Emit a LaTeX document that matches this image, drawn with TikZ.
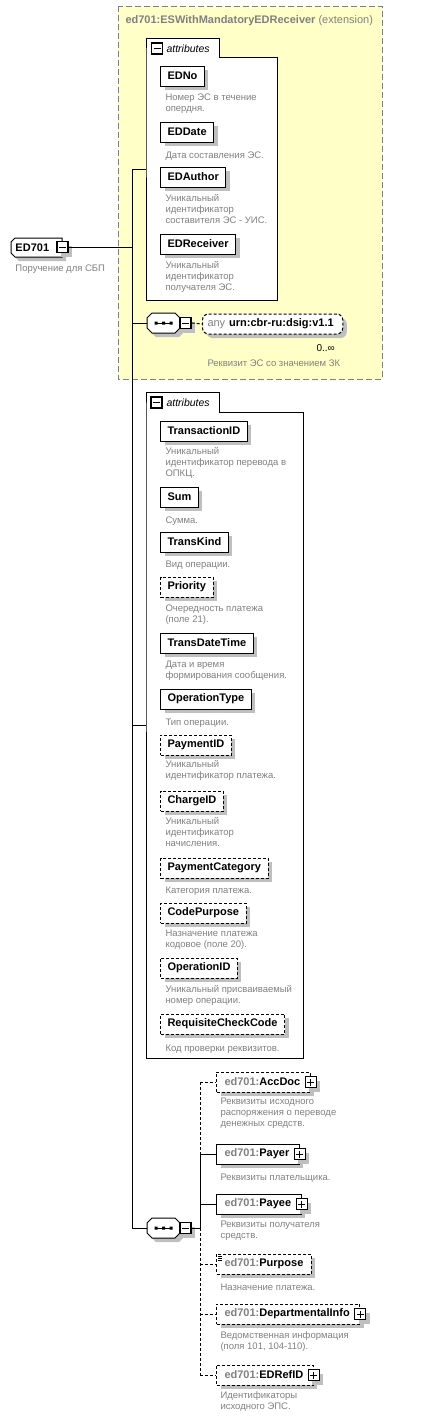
\documentclass[tikz,border=0pt]{standalone}
\usepackage{fontspec}
\setmainfont{Liberation Sans}
\usetikzlibrary{shadows,calc}
\newcommand\elfont{\fontsize{11}{13}\selectfont\bfseries}
\newcommand\dcfont{\fontsize{9.5}{11}\selectfont}
\definecolor{extyellow}{RGB}{255,255,200}
\definecolor{descgray}{RGB}{128,128,128}
\begin{document}
\begin{tikzpicture}[x=1pt,y=-1pt,line width=1pt,
	shadowed/.style={drop shadow={shadow xshift=4pt,shadow yshift=-4pt,fill=black!25,opacity=1}},
	opt/.style={dash pattern=on 3pt off 2pt},
	elbox/.style={draw,fill=white,shadowed,anchor=west,minimum height=20pt,inner xsep=7pt,inner ysep=0pt,font=\elfont},
	optbox/.style={elbox,opt},
	chbox/.style={elbox,inner xsep=8pt},
	optch/.style={chbox,opt},
	desc/.style={anchor=north west,align=left,inner sep=0pt,text=descgray,font=\dcfont,execute at begin node={\rule{0pt}{9pt}}},
	minusbox/.style={draw,line width=1.3pt,fill=white,minimum size=11pt,inner sep=0pt,
		path picture={\draw[line width=1pt] ($(path picture bounding box.west)+(2,0)$) -- ($(path picture bounding box.east)+(-2,0)$);}},
	plusbox/.style={draw,line width=1.3pt,fill=white,minimum size=11pt,inner sep=0pt,shadowed,
		path picture={\draw[line width=1pt] ($(path picture bounding box.west)+(2,0)$) -- ($(path picture bounding box.east)+(-2,0)$)
			($(path picture bounding box.north)+(0,2)$) -- ($(path picture bounding box.south)+(0,-2)$);}}]
	\useasboundingbox (0,0) rectangle (424,1419);
	\draw[draw=black!50,fill=extyellow,dash pattern=on 6pt off 3pt] (118,6) rectangle (382,379);
	\node[anchor=base west,inner sep=0pt,text=descgray,font=\elfont] (ext) at (125,23) {ed701:ESWithMandatoryEDReceiver \mdseries(extension)};
	\draw[fill=white] (146,57) -- (146,38) -- (219,38) -- (219,57) -- (277,57) -- (277,300) -- (146,300) -- cycle;
	\node[minusbox] (att1-m) at (157,48.5) {};
	\node[anchor=base west,inner sep=0pt,font=\fontsize{10.5}{12}\selectfont\itshape] (att1-l) at (166,52) {attributes};
	\node[elbox] (edno) at (160,76) {EDNo};
	\node[desc] (edno-d) at (165,93) {Номер ЭС в течение\\опердня.};
	\node[elbox] (eddate) at (160,132) {EDDate};
	\node[desc] (eddate-d) at (165,149) {Дата составления ЭС.};
	\node[elbox] (edauthor) at (160,177) {EDAuthor};
	\node[desc] (edauthor-d) at (165,194) {Уникальный\\идентификатор\\составителя ЭС - УИС.};
	\node[elbox] (edreceiver) at (160,244) {EDReceiver};
	\node[desc] (edreceiver-d) at (165,261) {Уникальный\\идентификатор\\получателя ЭС.};
	\draw[fill=white,shadowed] (11,242) -- (15,238) -- (62,238) -- (62,257) -- (15,257) -- (11,253) -- cycle;
	\node[anchor=west,inner sep=0pt,font=\elfont] (ed) at (15,247.5) {ED701};
	\node[minusbox,shadowed] (ed-m) at (62.5,247) {};
	\node[desc] (ed-d) at (15,262) {Поручение для СБП};
	\draw[fill=white,shadowed] (147,318) -- (152,313) -- (175,313) -- (180,318) -- (180,328) -- (175,333) -- (152,333) -- (147,328) -- cycle;
	\node[minimum width=33pt,minimum height=20pt,inner sep=0pt] (seq1) at (163.5,323) {};
	\draw (156,323) -- (171,323);
	\fill (154.5,321.5) rectangle +(3,3) (162,321.5) rectangle +(3,3) (169.5,321.5) rectangle +(3,3);
	\node[minusbox,shadowed] (seq1-m) at (185.5,323) {};
	\node[optbox,rounded corners=6pt,inner xsep=5pt] (any) at (202,324) {\textcolor{descgray}{\mdseries any}\hspace{4pt}urn:cbr-ru:dsig:v1.1\kern4pt};
	\node[anchor=base west,inner sep=0pt,font=\fontsize{10}{12}\selectfont] (any-n) at (316,351) {0..∞};
	\node[desc] (any-d) at (207,357) {Реквизит ЭС со значением ЗК};
	\draw[fill=white] (146,412) -- (146,392) -- (219,392) -- (219,412) -- (303,412) -- (303,1058) -- (146,1058) -- cycle;
	\node[minusbox] (att2-m) at (156.5,402.5) {};
	\node[anchor=base west,inner sep=0pt,font=\fontsize{10.5}{12}\selectfont\itshape] (att2-l) at (166,406) {attributes};
	\node[elbox] (transid) at (160,431) {TransactionID};
	\node[desc] (transid-d) at (165,447) {Уникальный\\идентификатор перевода в\\ОПКЦ.};
	\node[elbox] (sum) at (160,497) {Sum};
	\node[desc] (sum-d) at (165,514) {Сумма.};
	\node[elbox] (transkind) at (160,542) {TransKind};
	\node[desc] (transkind-d) at (165,558) {Вид операции.};
	\node[optbox] (priority) at (160,587) {Priority};
	\node[desc] (priority-d) at (165,604) {Очередность платежа\\(поле 21).};
	\node[elbox] (transdt) at (160,643) {TransDateTime};
	\node[desc] (transdt-d) at (165,660) {Дата и время\\формирования сообщения.};
	\node[elbox] (optype) at (160,699) {OperationType};
	\node[desc] (optype-d) at (165,716) {Тип операции.};
	\node[optbox] (payid) at (160,745) {PaymentID};
	\node[desc] (payid-d) at (165,760) {Уникальный\\идентификатор платежа.};
	\node[optbox] (chargeid) at (160,801) {ChargeID};
	\node[desc] (chargeid-d) at (165,817) {Уникальный\\идентификатор\\начисления.};
	\node[optbox] (paycat) at (160,868) {PaymentCategory};
	\node[desc] (paycat-d) at (165,884) {Категория платежа.};
	\node[optbox] (codepurp) at (160,913) {CodePurpose};
	\node[desc] (codepurp-d) at (165,929) {Назначение платежа\\кодовое (поле 20).};
	\node[optbox] (opid) at (160,968) {OperationID};
	\node[desc] (opid-d) at (165,985) {Уникальный присваиваемый\\номер операции.};
	\node[optbox] (reqcheck) at (160,1024) {RequisiteCheckCode};
	\node[desc] (reqcheck-d) at (165,1042) {Код проверки реквизитов.};
	\draw[fill=white,shadowed] (147,1223) -- (152,1218) -- (175,1218) -- (180,1223) -- (180,1233) -- (175,1238) -- (152,1238) -- (147,1233) -- cycle;
	\node[minimum width=33pt,minimum height=20pt,inner sep=0pt] (seq2) at (163.5,1228) {};
	\draw (156,1228) -- (171,1228);
	\fill (154.5,1226.5) rectangle +(3,3) (162,1226.5) rectangle +(3,3) (169.5,1226.5) rectangle +(3,3);
	\node[minusbox,shadowed] (seq2-m) at (185.5,1228) {};
	\node[optch] (accdoc) at (216,1082) {\textcolor{descgray}{ed701:}AccDoc\kern2pt};
	\node[plusbox] (accdoc-p) at (accdoc.east) {};
	\node[desc] (accdoc-d) at (220,1097) {Реквизиты исходного\\распоряжения о переводе\\денежных средств.};
	\node[chbox] (payer) at (216,1154) {\textcolor{descgray}{ed701:}Payer\kern2pt};
	\node[plusbox] (payer-p) at (payer.east) {};
	\node[desc] (payer-d) at (220,1171) {Реквизиты плательщика.};
	\node[chbox] (payee) at (216,1204) {\textcolor{descgray}{ed701:}Payee\kern2pt};
	\node[plusbox] (payee-p) at (payee.east) {};
	\node[desc] (payee-d) at (220,1220) {Реквизиты получателя\\средств.};
	\node[optch] (purpose) at (216,1264) {\textcolor{descgray}{ed701:}Purpose};
	\draw[line width=0.6pt] (218,1256) -- (222,1256) (218,1258) -- (222,1258) (218,1260) -- (222,1260);
	\node[desc] (purpose-d) at (220,1281) {Назначение платежа.};
	\node[optch] (depinfo) at (216,1314) {\textcolor{descgray}{ed701:}DepartmentalInfo\kern2pt};
	\node[plusbox] (depinfo-p) at (depinfo.east) {};
	\node[desc] (depinfo-d) at (220,1331) {Ведомственная информация\\(поля 101, 104-110).};
	\node[optch] (edrefid) at (216,1375) {\textcolor{descgray}{ed701:}EDRefID\kern2pt};
	\node[plusbox] (edrefid-p) at (edrefid.east) {};
	\node[desc] (edrefid-d) at (220,1391) {Идентификаторы\\исходного ЭПС.};
	\coordinate (tr-top) at (132,169);
	\coordinate (tr-bot) at (132,1228);
	\coordinate (att1) at (146,169);
	\coordinate (att2) at (146,725);
	\coordinate (ch-top) at (200,1082);
	\coordinate (ch-bot) at (200,1375);
	\draw (ed-m.east) -- (ed-m.east -| tr-top);
	\draw (tr-top) -- (tr-bot);
	\draw (tr-top) -- (att1);
	\draw (seq1.west -| tr-top) -- (seq1.west);
	\draw (att2 -| tr-top) -- (att2);
	\draw (tr-bot) -- (seq2.west);
	\draw[opt] (seq1-m.east) -- (any.west);
	\draw (seq2-m.east) -- (seq2-m.east -| ch-top);
	\draw[opt] (ch-top) -- (ch-top |- payer);
	\draw (ch-top |- payer) -- (ch-top |- seq2-m);
	\draw[opt] (ch-top |- seq2-m) -- (ch-bot);
	\draw[opt] (ch-top) -- (accdoc.west);
	\draw (ch-top |- payer) -- (payer.west);
	\draw (ch-top |- payee) -- (payee.west);
	\draw[opt] (ch-top |- purpose) -- (purpose.west);
	\draw[opt] (ch-top |- depinfo) -- (depinfo.west);
	\draw[opt] (ch-bot) -- (edrefid.west);
\end{tikzpicture}
\end{document}
